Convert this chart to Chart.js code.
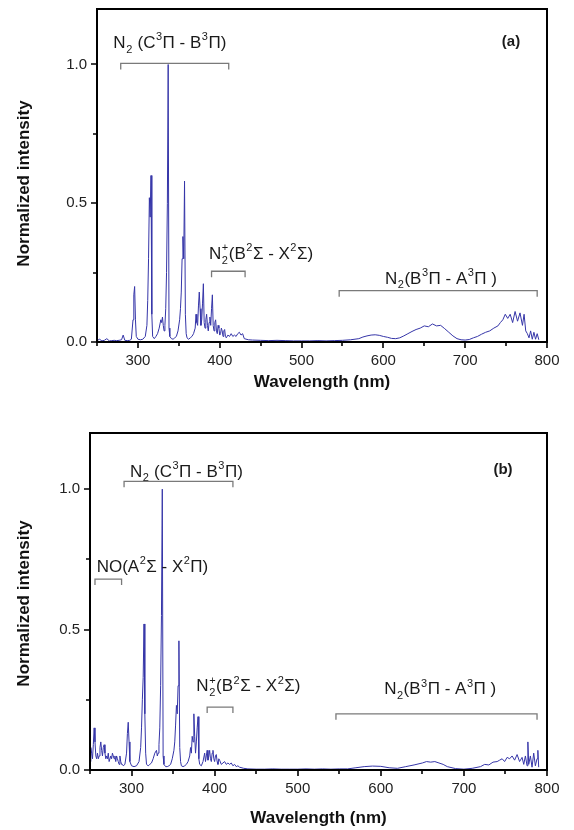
<!DOCTYPE html>
<html><head><meta charset="utf-8">
<script src="https://cdn.jsdelivr.net/npm/chart.js@4.4.1/dist/chart.umd.min.js"></script>
<style>
html,body{margin:0;padding:0;background:#fff;width:574px;height:830px;overflow:hidden;position:relative}
canvas{position:absolute;left:0}
</style></head><body>
<canvas id="ca" width="574" height="424" style="top:-14px"></canvas>
<canvas id="cb" width="574" height="420" style="top:410px"></canvas>
<script>
// ---------- data ----------
const wavelengthA = [250,253,256,259,262,265,268,271,274,277,280,282,284,287,290,292,294,295,296,297,298,300,303,306,309,311,312,313,314,315,316,317,318,320,322,324,326,328,329,330,331,332,333,334,335,336,337,338,339,341,343,345,347,349,351,352,353,354,355,356,357,358,359,360,362,364,366,368,370,371,372,373,374,375,376,377,378,379,380,381,382,383,384,385,386,387,388,389,390,391,392,393,394,395,396,397,398,399,400,401,402,403,404,405,406,407,408,410,412,414,416,418,420,422,424,426,428,430,435,440,450,460,470,480,490,500,510,520,530,540,550,560,570,575,580,585,590,595,600,605,610,615,620,625,630,635,640,645,650,655,660,665,670,675,680,685,690,695,700,705,710,715,720,725,730,735,740,743,746,749,752,755,758,761,764,767,770,772,774,776,778,780,782,784,786,788,790];
const intensityA = [0.005,0.01,0.004,0.006,0.012,0.004,0.005,0.006,0.005,0.006,0.008,0.025,0.006,0.005,0.006,0.01,0.08,0.17,0.2,0.08,0.02,0.01,0.008,0.01,0.02,0.06,0.15,0.3,0.52,0.45,0.6,0.1,0.02,0.012,0.02,0.03,0.05,0.08,0.07,0.09,0.06,0.04,0.06,0.12,0.25,0.5,1.0,0.05,0.02,0.012,0.01,0.015,0.02,0.04,0.08,0.12,0.18,0.3,0.38,0.3,0.58,0.1,0.03,0.015,0.01,0.015,0.02,0.03,0.05,0.1,0.07,0.06,0.13,0.18,0.12,0.06,0.08,0.14,0.21,0.07,0.05,0.08,0.1,0.06,0.04,0.07,0.09,0.06,0.12,0.17,0.06,0.04,0.07,0.08,0.04,0.03,0.06,0.05,0.025,0.03,0.05,0.04,0.02,0.04,0.045,0.02,0.015,0.025,0.02,0.03,0.02,0.025,0.02,0.03,0.035,0.025,0.03,0.012,0.008,0.007,0.006,0.005,0.006,0.005,0.004,0.004,0.004,0.005,0.004,0.005,0.006,0.008,0.012,0.018,0.022,0.025,0.026,0.024,0.02,0.017,0.013,0.012,0.015,0.022,0.03,0.038,0.045,0.05,0.058,0.055,0.065,0.058,0.06,0.048,0.035,0.022,0.012,0.008,0.007,0.009,0.015,0.02,0.028,0.035,0.04,0.05,0.058,0.07,0.08,0.1,0.085,0.1,0.07,0.11,0.075,0.105,0.06,0.1,0.04,0.03,0.015,0.04,0.01,0.035,0.01,0.03,0.008];

const wavelengthB = [250,251,252,253,254,255,256,257,258,259,260,261,262,263,264,265,266,267,268,269,270,271,272,273,274,275,276,277,278,279,280,281,282,283,284,285,286,287,288,289,290,292,294,295,296,297,298,300,303,306,309,311,312,313,314,315,316,317,318,320,322,324,326,328,330,331,332,333,334,335,336,337,338,339,341,343,345,347,349,351,352,353,354,355,356,357,358,359,360,362,364,366,368,370,371,372,373,374,375,376,377,378,379,380,381,382,384,386,388,389,390,391,392,393,394,395,396,397,398,399,400,401,402,403,404,405,406,408,410,412,414,416,418,420,422,424,426,428,430,435,440,450,460,470,480,490,500,510,520,530,540,550,560,570,580,590,600,610,620,630,640,650,655,660,665,670,675,680,690,700,710,720,725,730,735,740,743,746,749,752,755,758,761,764,767,770,772,774,776,777,778,780,782,784,786,788,789,790];
const intensityB = [0.03,0.08,0.06,0.04,0.09,0.15,0.1,0.05,0.04,0.06,0.04,0.05,0.08,0.1,0.07,0.05,0.08,0.09,0.06,0.04,0.05,0.04,0.06,0.03,0.03,0.05,0.04,0.06,0.05,0.04,0.05,0.03,0.05,0.04,0.03,0.02,0.05,0.03,0.02,0.02,0.015,0.02,0.06,0.13,0.17,0.1,0.03,0.015,0.012,0.015,0.03,0.08,0.15,0.25,0.33,0.52,0.2,0.06,0.02,0.015,0.02,0.025,0.04,0.06,0.07,0.05,0.06,0.09,0.15,0.3,0.55,1.0,0.05,0.02,0.012,0.012,0.015,0.02,0.04,0.07,0.1,0.16,0.23,0.2,0.3,0.46,0.08,0.03,0.015,0.012,0.015,0.02,0.03,0.05,0.08,0.06,0.12,0.1,0.2,0.12,0.06,0.1,0.15,0.19,0.04,0.02,0.015,0.03,0.06,0.03,0.05,0.07,0.035,0.05,0.07,0.04,0.03,0.06,0.07,0.04,0.03,0.05,0.055,0.03,0.02,0.04,0.035,0.02,0.025,0.03,0.02,0.025,0.02,0.025,0.015,0.02,0.012,0.015,0.01,0.006,0.004,0.003,0.003,0.004,0.003,0.003,0.003,0.004,0.003,0.004,0.003,0.004,0.004,0.008,0.012,0.014,0.013,0.008,0.006,0.012,0.018,0.025,0.03,0.028,0.03,0.025,0.02,0.012,0.005,0.003,0.006,0.012,0.02,0.018,0.028,0.03,0.035,0.04,0.03,0.045,0.04,0.05,0.035,0.055,0.03,0.045,0.02,0.05,0.015,0.1,0.02,0.05,0.01,0.06,0.015,0.04,0.07,0.01];

const xTickValues = [250,300,350,400,450,500,550,600,650,700,750,800];
const yTickValues = [0,0.25,0.5,0.75,1.0];

const annotA = {
  labels: [
    {text:'N_2 (C^3Π - B^3Π)', x:270, y:1.06},
    {text:'N_2^+(B^2Σ - X^2Σ)', x:387, y:0.30},
    {text:'N_2(B^3Π - A^3Π )', x:602, y:0.21}
  ],
  brackets: [
    {x1:279, x2:411, y:1.004},
    {x1:390, x2:431, y:0.255},
    {x1:546, x2:788, y:0.185}
  ],
  tag: {text:'(a)', x:756, y:1.068}
};
const annotB = {
  labels: [
    {text:'N_2 (C^3Π - B^3Π)', x:298, y:1.045},
    {text:'NO(A^2Σ - X^2Π)', x:258, y:0.705},
    {text:'N_2^+(B^2Σ - X^2Σ)', x:378, y:0.28},
    {text:'N_2(B^3Π - A^3Π )', x:604, y:0.27}
  ],
  brackets: [
    {x1:291, x2:422, y:1.028},
    {x1:256, x2:288, y:0.68},
    {x1:391, x2:422, y:0.224},
    {x1:546, x2:788, y:0.2}
  ],
  tag: {text:'(b)', x:747, y:1.053}
};

// ---------- drawing ----------
const FONT = '"Liberation Sans", Arial, Helvetica, sans-serif';

function drawRich(ctx, str, x, y, size){
  const big = size + 'px ' + FONT;
  const small = Math.round(size*0.62) + 'px ' + FONT;
  let cx = x, buf = '', i = 0;
  const flush = () => {
    if (buf) { ctx.font = big; ctx.fillText(buf, cx, y); cx += ctx.measureText(buf).width; buf = ''; }
  };
  while (i < str.length) {
    const c = str[i];
    if (c === '_' || c === '^') {
      flush();
      let sub = null, sup = null;
      if (c === '_') { sub = str[i+1]; i += 2; if (str[i] === '^') { sup = str[i+1]; i += 2; } }
      else { sup = str[i+1]; i += 2; }
      ctx.font = small;
      let w = 0;
      if (sub) { ctx.fillText(sub, cx + 0.5, y + size*0.28); w = Math.max(w, ctx.measureText(sub).width); }
      if (sup) { ctx.fillText(sup, cx + 0.5, y - size*0.45); w = Math.max(w, ctx.measureText(sup).width); }
      cx += w + 1;
    } else { buf += c; i++; }
  }
  flush();
}

const panelPlugin = {
  id: 'panel',
  afterDraw(chart, args, opts) {
    const {ctx, chartArea: a, scales} = chart;
    const x = scales.x, y = scales.y;
    const an = opts.annot;
    ctx.save();
    // frame
    ctx.strokeStyle = '#000';
    ctx.lineWidth = 2;
    ctx.strokeRect(a.left, a.top, a.right - a.left, a.bottom - a.top);
    // tick marks (outward)
    ctx.lineWidth = 1.6;
    ctx.beginPath();
    xTickValues.forEach(v => {
      const px = Math.round(x.getPixelForValue(v));
      const len = (v % 100 === 0) ? 6 : 4;
      ctx.moveTo(px, a.bottom); ctx.lineTo(px, a.bottom + len);
    });
    yTickValues.forEach(v => {
      const py = Math.round(y.getPixelForValue(v));
      const len = (Math.abs(v*2 - Math.round(v*2)) < 1e-6) ? 6 : 4;
      ctx.moveTo(a.left, py); ctx.lineTo(a.left - len, py);
    });
    ctx.stroke();
    // brackets
    ctx.strokeStyle = '#7a7a7a';
    ctx.lineWidth = 1.3;
    an.brackets.forEach(b => {
      const x1 = x.getPixelForValue(b.x1), x2 = x.getPixelForValue(b.x2), py = y.getPixelForValue(b.y);
      ctx.beginPath();
      ctx.moveTo(x1, py + 6); ctx.lineTo(x1, py); ctx.lineTo(x2, py); ctx.lineTo(x2, py + 6);
      ctx.stroke();
    });
    // labels
    ctx.fillStyle = '#1a1a1a';
    ctx.textBaseline = 'alphabetic';
    ctx.textAlign = 'left';
    an.labels.forEach(l => drawRich(ctx, l.text, x.getPixelForValue(l.x), y.getPixelForValue(l.y), 17));
    ctx.font = 'bold 15px ' + FONT;
    ctx.textAlign = 'center';
    ctx.fillText(an.tag.text, x.getPixelForValue(an.tag.x), y.getPixelForValue(an.tag.y));
    // axis titles
    ctx.fillStyle = '#111';
    ctx.font = 'bold 17px ' + FONT;
    ctx.textBaseline = 'middle';
    ctx.fillText('Wavelength (nm)', (a.left + a.right) / 2, a.bottom + opts.xTitleOffset);
    ctx.save();
    ctx.translate(opts.yTitleX, (a.top + a.bottom) / 2 + opts.yTitleShift);
    ctx.rotate(-Math.PI / 2);
    ctx.fillText('Normalized intensity', 0, 0);
    ctx.restore();
    ctx.restore();
  }
};

function makeChart(id, wl, inten, annot, geom) {
  return new Chart(document.getElementById(id), {
    type: 'line',
    data: {
      datasets: [{
        data: wl.map((w, i) => ({x: w, y: inten[i]})),
        borderColor: '#3535a8',
        borderWidth: 1,
        pointRadius: 0,
        tension: 0,
        fill: false
      }]
    },
    options: {
      responsive: false,
      animation: false,
      events: [],
      layout: {padding: {top: geom.top, right: geom.right, left: 0, bottom: 0}},
      plugins: {
        legend: {display: false},
        tooltip: {enabled: false},
        panel: {annot: annot, xTitleOffset: geom.xTitleOffset, yTitleX: geom.yTitleX, yTitleShift: geom.yTitleShift}
      },
      scales: {
        x: {
          type: 'linear', min: 250, max: 800,
          grid: {display: false, drawTicks: false},
          border: {display: false},
          afterFit: s => { s.height = geom.xh; },
          ticks: {
            stepSize: 50, autoSkip: false, maxRotation: 0, padding: 10,
            color: '#222', font: {family: FONT, size: 15},
            callback: v => (v % 100 === 0 ? String(v) : '')
          }
        },
        y: {
          min: 0, max: 1.2,
          grid: {display: false, drawTicks: false},
          border: {display: false},
          afterFit: s => { s.width = geom.yw; },
          ticks: {
            stepSize: 0.25, padding: 10,
            color: '#222', font: {family: FONT, size: 15},
            callback: v => (v <= 1.0001 && Math.abs(v*2 - Math.round(v*2)) < 1e-6 ? v.toFixed(1) : '')
          }
        }
      }
    },
    plugins: [panelPlugin]
  });
}

makeChart('ca', wavelengthA, intensityA, annotA, {top: 23, right: 27, yw: 97, xh: 68, xTitleOffset: 40, yTitleX: 24, yTitleShift: 8});
makeChart('cb', wavelengthB, intensityB, annotB, {top: 23, right: 27, yw: 90, xh: 60, xTitleOffset: 48, yTitleX: 24, yTitleShift: 2});
</script>
</body></html>
